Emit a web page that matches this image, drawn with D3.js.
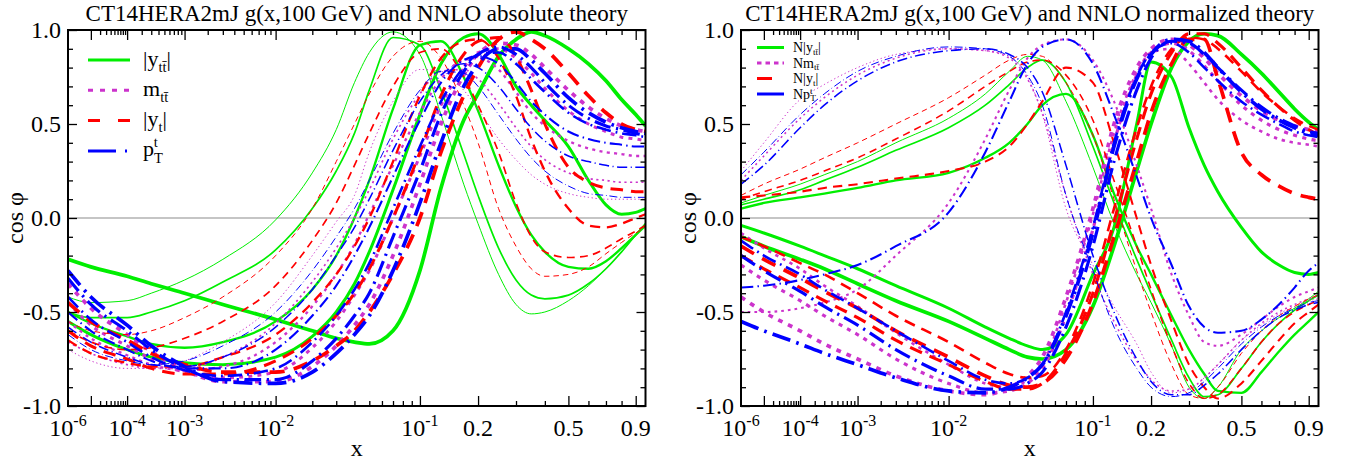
<!DOCTYPE html>
<html><head><meta charset="utf-8">
<script src="https://cdn.jsdelivr.net/npm/d3@7/dist/d3.min.js"></script>
<style>
html,body{margin:0;padding:0;background:#fff;}
svg{display:block;}
text{font-family:"Liberation Serif","Times New Roman",Times,serif;fill:#000;}
</style></head><body>
<svg id="chart" width="1349" height="464"></svg>
<script>
// x positions shared by every curve (values of x)
const xKnots = [1e-6, 1e-5, 1e-4, 3e-4, 1e-3, 3e-3, 0.01, 0.02, 0.03, 0.04, 0.05, 0.07, 0.1, 0.13, 0.17, 0.2, 0.25, 0.3, 0.35, 0.4, 0.5, 0.6, 0.7, 0.8, 0.9, 0.975];

// cos(phi) correlations, absolute theory, one row per kinematic bin
const absYtt = [
  [-0.42,-0.45,-0.44,-0.40,-0.33,-0.22, -0.01,0.24,0.47,0.72,0.88,0.99, 0.87,0.55,0.18,-0.03,-0.30,-0.46,-0.51, -0.50,-0.44,-0.36,-0.27,-0.18,-0.09,-0.03],
  [-0.50,-0.53,-0.53,-0.50,-0.44,-0.34, -0.17,0.05,0.25,0.45,0.68,0.96, 0.92,0.68,0.34,0.12,-0.16,-0.33,-0.41, -0.43,-0.41,-0.35,-0.27,-0.18,-0.09,-0.03],
  [-0.50,-0.56,-0.63,-0.67,-0.69,-0.66, -0.55,-0.38,-0.20,0.00,0.20,0.58, 0.92,0.94,0.75,0.57,0.28,0.06,-0.09, -0.18,-0.26,-0.27,-0.23,-0.16,-0.09,-0.04],
  [-0.55,-0.62,-0.70,-0.74,-0.77,-0.78, -0.74,-0.63,-0.50,-0.35,-0.18,0.15, 0.55,0.82,0.96,0.98,0.87,0.70,0.60, 0.52,0.38,0.20,0.07,0.02,0.03,0.05],
  [-0.22,-0.26,-0.31,-0.35,-0.40,-0.46, -0.54,-0.60,-0.64,-0.66,-0.67,-0.60, -0.28,0.16,0.52,0.66,0.86,0.95,0.99, 0.97,0.90,0.82,0.73,0.63,0.55,0.49]
];
const absMtt = [
  [-0.70,-0.76,-0.80,-0.80,-0.76,-0.66, -0.45,-0.20,-0.02,0.12,0.35,0.62, 0.79,0.78,0.68,0.58,0.42,0.31,0.23, 0.18,0.13,0.11,0.10,0.10,0.10,0.10],
  [-0.66,-0.72,-0.78,-0.80,-0.80,-0.74, -0.56,-0.34,-0.16,0.00,0.15,0.42, 0.66,0.78,0.79,0.74,0.61,0.48,0.38, 0.31,0.24,0.21,0.20,0.19,0.19,0.19],
  [-0.55,-0.64,-0.73,-0.78,-0.81,-0.79, -0.66,-0.47,-0.30,-0.14,0.02,0.28, 0.56,0.74,0.84,0.85,0.79,0.67,0.56, 0.49,0.41,0.37,0.35,0.34,0.33,0.33],
  [-0.45,-0.57,-0.68,-0.75,-0.82,-0.85, -0.82,-0.69,-0.55,-0.41,-0.28,0.00, 0.33,0.60,0.80,0.88,0.90,0.85,0.77, 0.69,0.57,0.50,0.46,0.43,0.42,0.41],
  [-0.35,-0.48,-0.62,-0.71,-0.81,-0.87, -0.87,-0.79,-0.68,-0.57,-0.46,-0.20, 0.18,0.50,0.76,0.87,0.93,0.92,0.87, 0.80,0.68,0.59,0.53,0.49,0.47,0.46]
];
const absYt = [
  [-0.55,-0.60,-0.62,-0.60,-0.53,-0.42, -0.20,0.05,0.30,0.50,0.66,0.86, 0.94,0.85,0.60,0.40,0.05,-0.15,-0.27, -0.31,-0.30,-0.26,-0.19,-0.13,-0.08,-0.05],
  [-0.60,-0.66,-0.70,-0.69,-0.64,-0.55, -0.36,-0.12,0.08,0.28,0.45,0.70, 0.88,0.90,0.75,0.60,0.35,0.08,-0.10, -0.18,-0.21,-0.20,-0.16,-0.11,-0.07,-0.04],
  [-0.65,-0.72,-0.77,-0.79,-0.79,-0.74, -0.62,-0.45,-0.30,-0.15,0.00,0.30, 0.65,0.85,0.94,0.95,0.85,0.65,0.42, 0.25,0.05,-0.04,-0.05,-0.03,0.00,0.02],
  [-0.60,-0.68,-0.75,-0.80,-0.83,-0.83, -0.76,-0.64,-0.52,-0.40,-0.27,0.00, 0.35,0.65,0.87,0.94,0.96,0.86,0.68, 0.50,0.27,0.19,0.16,0.15,0.14,0.14],
  [-0.45,-0.55,-0.65,-0.72,-0.78,-0.82, -0.82,-0.76,-0.68,-0.60,-0.50,-0.30, 0.00,0.35,0.65,0.80,0.95,0.99,0.95, 0.90,0.77,0.65,0.56,0.50,0.47,0.46]
];
const absPt = [
  [-0.62,-0.70,-0.76,-0.78,-0.76,-0.68, -0.50,-0.28,-0.10,0.05,0.20,0.45, 0.68,0.78,0.77,0.70,0.55,0.42,0.32, 0.25,0.17,0.13,0.12,0.11,0.11,0.11],
  [-0.58,-0.66,-0.74,-0.78,-0.79,-0.74, -0.58,-0.38,-0.20,-0.05,0.10,0.36, 0.62,0.76,0.82,0.80,0.70,0.58,0.48, 0.41,0.33,0.30,0.28,0.27,0.27,0.27],
  [-0.50,-0.60,-0.70,-0.76,-0.80,-0.80, -0.70,-0.52,-0.36,-0.20,-0.05,0.22, 0.52,0.72,0.84,0.86,0.82,0.72,0.62, 0.55,0.46,0.42,0.40,0.39,0.38,0.38],
  [-0.42,-0.54,-0.66,-0.74,-0.81,-0.84, -0.80,-0.66,-0.52,-0.38,-0.24,0.05, 0.38,0.62,0.80,0.87,0.88,0.82,0.74, 0.67,0.56,0.50,0.47,0.45,0.44,0.43],
  [-0.32,-0.46,-0.60,-0.70,-0.80,-0.86, -0.86,-0.76,-0.64,-0.52,-0.40,-0.10, 0.25,0.55,0.78,0.87,0.91,0.87,0.80, 0.72,0.60,0.53,0.49,0.47,0.45,0.44],
  [-0.28,-0.42,-0.57,-0.68,-0.79,-0.87, -0.88,-0.82,-0.72,-0.62,-0.52,-0.28, 0.08,0.40,0.70,0.82,0.90,0.90,0.84, 0.77,0.64,0.56,0.51,0.48,0.46,0.45]
];

// cos(phi) correlations, normalized theory
const normYtt = [
  [0.08,0.12,0.18,0.23,0.30,0.40, 0.53,0.66,0.78,0.86,0.84,0.62, 0.27,-0.03,-0.30,-0.45,-0.68,-0.90,-0.96, -0.90,-0.70,-0.60,-0.53,-0.48,-0.43,-0.39],
  [0.07,0.10,0.15,0.20,0.27,0.36, 0.48,0.60,0.71,0.80,0.84,0.72, 0.38,0.08,-0.22,-0.40,-0.65,-0.85,-0.95, -0.94,-0.80,-0.66,-0.56,-0.49,-0.44,-0.41],
  [0.05,0.08,0.11,0.13,0.16,0.20, 0.24,0.32,0.40,0.50,0.60,0.66, 0.44,0.13,-0.15,-0.30,-0.52,-0.70,-0.83, -0.92,-0.93,-0.82,-0.71,-0.62,-0.55,-0.50],
  [-0.04,-0.08,-0.15,-0.20,-0.27,-0.36, -0.48,-0.58,-0.64,-0.68,-0.70,-0.62, -0.30,-0.05,0.50,0.83,0.75,0.48,0.28, 0.14,-0.05,-0.18,-0.25,-0.29,-0.30,-0.29],
  [-0.10,-0.15,-0.22,-0.27,-0.35,-0.44, -0.55,-0.64,-0.70,-0.74,-0.75,-0.70, -0.47,-0.15,0.25,0.50,0.80,0.94,0.98, 0.97,0.87,0.77,0.67,0.58,0.51,0.47]
];
const normMtt = [
  [0.25,0.40,0.63,0.71,0.80,0.87, 0.90,0.89,0.86,0.75,0.55,0.05, -0.25,-0.47,-0.67,-0.82,-0.93,-0.91,-0.85, -0.78,-0.65,-0.57,-0.51,-0.47,-0.44,-0.43],
  [0.20,0.33,0.53,0.64,0.76,0.85, 0.90,0.89,0.85,0.74,0.56,0.12, -0.30,-0.55,-0.76,-0.86,-0.92,-0.91,-0.85, -0.78,-0.65,-0.56,-0.50,-0.46,-0.43,-0.41],
  [-0.50,-0.50,-0.48,-0.45,-0.38,-0.20, 0.08,0.42,0.68,0.85,0.92,0.95, 0.84,0.62,0.28,0.05,-0.30,-0.52,-0.66, -0.68,-0.62,-0.54,-0.47,-0.42,-0.39,-0.37],
  [-0.08,-0.16,-0.27,-0.36,-0.47,-0.61, -0.78,-0.88,-0.90,-0.86,-0.78,-0.45, 0.02,0.45,0.77,0.88,0.90,0.82,0.72, 0.63,0.52,0.46,0.42,0.40,0.39,0.38],
  [-0.25,-0.33,-0.44,-0.52,-0.62,-0.75, -0.88,-0.93,-0.92,-0.88,-0.80,-0.52, -0.06,0.40,0.76,0.88,0.93,0.89,0.81, 0.73,0.60,0.52,0.47,0.44,0.42,0.41],
  [-0.42,-0.50,-0.60,-0.67,-0.75,-0.84, -0.92,-0.94,-0.90,-0.84,-0.74,-0.42, 0.05,0.50,0.80,0.90,0.95,0.92,0.85, 0.77,0.65,0.57,0.52,0.49,0.47,0.46]
];
const normYt = [
  [0.12,0.18,0.26,0.32,0.40,0.50, 0.64,0.76,0.84,0.87,0.86,0.72, 0.44,0.10,-0.28,-0.50,-0.78,-0.94,-0.96, -0.90,-0.72,-0.60,-0.52,-0.47,-0.43,-0.41],
  [0.10,0.14,0.20,0.25,0.32,0.42, 0.57,0.70,0.78,0.83,0.84,0.76, 0.52,0.20,-0.15,-0.38,-0.68,-0.88,-0.96, -0.94,-0.80,-0.66,-0.56,-0.50,-0.46,-0.44],
  [0.11,0.12,0.14,0.16,0.18,0.21, 0.25,0.30,0.38,0.50,0.62,0.80, 0.72,0.40,0.00,-0.25,-0.55,-0.78,-0.90, -0.96,-0.88,-0.76,-0.65,-0.56,-0.50,-0.46],
  [-0.10,-0.15,-0.24,-0.30,-0.40,-0.52, -0.66,-0.77,-0.83,-0.85,-0.84,-0.70, -0.35,0.05,0.48,0.70,0.90,0.96,0.95, 0.90,0.78,0.67,0.59,0.53,0.49,0.47],
  [-0.20,-0.27,-0.37,-0.44,-0.53,-0.65, -0.78,-0.87,-0.91,-0.91,-0.88,-0.72, -0.40,-0.02,0.42,0.66,0.88,0.98,0.98, 0.93,0.80,0.68,0.59,0.52,0.47,0.44],
  [-0.15,-0.22,-0.32,-0.39,-0.48,-0.60, -0.74,-0.84,-0.89,-0.90,-0.88,-0.75, -0.45,-0.10,0.30,0.56,0.82,0.95,0.95, 0.74,0.35,0.23,0.17,0.13,0.11,0.10]
];
const normPt = [
  [0.23,0.35,0.55,0.66,0.78,0.86, 0.91,0.90,0.86,0.76,0.60,0.12, -0.28,-0.58,-0.80,-0.90,-0.95,-0.93,-0.87, -0.80,-0.67,-0.58,-0.52,-0.48,-0.45,-0.44],
  [0.18,0.28,0.48,0.60,0.73,0.83, 0.89,0.90,0.87,0.80,0.67,0.28, -0.20,-0.50,-0.75,-0.87,-0.94,-0.94,-0.89, -0.83,-0.70,-0.60,-0.53,-0.49,-0.46,-0.45],
  [-0.37,-0.36,-0.33,-0.30,-0.25,-0.15, 0.03,0.35,0.62,0.82,0.91,0.95, 0.82,0.55,0.22,0.00,-0.25,-0.47,-0.58, -0.61,-0.60,-0.54,-0.46,-0.37,-0.28,-0.24],
  [-0.12,-0.20,-0.30,-0.38,-0.48,-0.60, -0.76,-0.86,-0.88,-0.85,-0.78,-0.50, -0.05,0.40,0.75,0.88,0.93,0.88,0.80, 0.73,0.62,0.55,0.50,0.46,0.44,0.43],
  [-0.20,-0.28,-0.39,-0.47,-0.57,-0.70, -0.84,-0.91,-0.91,-0.88,-0.82,-0.58, -0.15,0.30,0.68,0.85,0.94,0.93,0.87, 0.80,0.68,0.59,0.53,0.49,0.46,0.45],
  [-0.55,-0.60,-0.67,-0.72,-0.78,-0.85, -0.92,-0.93,-0.90,-0.85,-0.78,-0.52, -0.08,0.38,0.74,0.87,0.95,0.94,0.88, 0.80,0.67,0.58,0.52,0.48,0.45,0.44]
];

// axis ticks and labels
const xTickMajor = [1e-5, 1e-4, 1e-3, 1e-2, 0.1, 0.2, 0.5, 0.9];
const xTickMinor = [2e-5,3e-5,4e-5,5e-5,6e-5,7e-5,8e-5,9e-5, 2e-4,3e-4,4e-4,5e-4,6e-4,7e-4,8e-4,9e-4,
                    2e-3,3e-3,4e-3,5e-3,6e-3,7e-3,8e-3,9e-3, 0.02,0.03,0.04,0.05,0.06,0.07,0.08,0.09, 0.3,0.4,0.6,0.7,0.8];
const xLabelValues = [1e-6, 1e-4, 1e-3, 1e-2, 0.1, 0.2, 0.5, 0.9];
const xLabelTexts = ["10^-6", "10^-4", "10^-3", "10^-2", "10^-1", "0.2", "0.5", "0.9"];
const yTickMajor = [-1, -0.5, 0, 0.5, 1];
const yTickMinor = [-0.9,-0.8,-0.7,-0.6,-0.4,-0.3,-0.2,-0.1,0.1,0.2,0.3,0.4,0.6,0.7,0.8,0.9];

const titles = ["CT14HERA2mJ g(x,100 GeV) and NNLO absolute theory",
                "CT14HERA2mJ g(x,100 GeV) and NNLO normalized theory"];
const legendAbs = [
  [{t:"|y"},{t:"tt\u0304",sub:1},{t:"|"}],
  [{t:"m"},{t:"tt\u0304",sub:1}],
  [{t:"|y"},{t:"t",sub:1},{t:"|"}],
  [{t:"p"},{t:"T",sub:1},{t:"t",sup:1,back:0.42}]
];
const legendNorm = [
  [{t:"N|y"},{t:"tt\u0304",sub:1},{t:"|"}],
  [{t:"Nm"},{t:"tt\u0304",sub:1}],
  [{t:"N|y"},{t:"t",sub:1},{t:"|"}],
  [{t:"Np"},{t:"T",sub:1},{t:"t",sup:1,back:0.42}]
];

// ---------- drawing ----------
const svg = d3.select("#chart");
const TOP = 30, BOTTOM = 406;
const y = d3.scaleLinear().domain([-1, 1]).range([BOTTOM, TOP]);

const families = [
  {key:"ytt", color:"#00ee00", kind:"solid"},
  {key:"mtt", color:"#cc33cc", kind:"dot"},
  {key:"yt",  color:"#ff0000", kind:"dash"},
  {key:"pt",  color:"#0000ff", kind:"dashdot"}
];

function dashFor(kind, w) {
  if (kind === "dot") return [1.3*w, 1.3*w + 1.3].join(",");
  if (kind === "dash") return [3.5*w + 2, 2*w + 2].join(",");
  if (kind === "dashdot") return [4*w + 4, 1.3*w + 1.5, 0.7*w, 1.3*w + 1.5].join(",");
  return null;
}

function richText(sel, parts, size, subShift, supShift) {
  let cur = 0;
  parts.forEach(p => {
    const small = p.sub || p.sup;
    const fs = small ? size * 0.66 : size;
    const target = p.sub ? size * subShift : (p.sup ? -size * supShift : 0);
    const ts = sel.append("tspan").attr("font-size", fs).attr("dy", target - cur).text(p.t);
    if (p.back) ts.attr("dx", -p.back * size);
    cur = target;
  });
}

function drawPanel(cfg) {
  const x = d3.scalePow().exponent(0.2).domain([1e-6, 0.975]).range([cfg.x0, cfg.x1]);
  const g = svg.append("g");

  const clipId = "clip-" + cfg.id;
  svg.append("clipPath").attr("id", clipId).append("rect")
    .attr("x", cfg.x0).attr("y", TOP).attr("width", cfg.x1 - cfg.x0).attr("height", BOTTOM - TOP);

  // zero line
  g.append("line").attr("x1", cfg.x0).attr("x2", cfg.x1)
    .attr("y1", y(0)).attr("y2", y(0)).attr("stroke", "#8c8c8c").attr("stroke-width", 1.2);

  const plot = g.append("g").attr("clip-path", `url(#${clipId})`);
  const line = d3.line().x(d => x(d[0])).y(d => y(d[1])).curve(d3.curveMonotoneX);

  families.forEach(f => {
    const rows = cfg.data[f.key];
    rows.forEach((vals, i) => {
      const w = 1 + 2.7 * i / (rows.length - 1);
      plot.append("path")
        .datum(xKnots.map((xv, k) => [xv, vals[k]]))
        .attr("d", line)
        .attr("fill", "none")
        .attr("stroke", f.color)
        .attr("stroke-width", w)
        .attr("stroke-dasharray", dashFor(f.kind, w));
    });
  });

  // ticks (inward on all four sides)
  const tickStyle = s => { s.select(".domain").remove(); s.selectAll("line").attr("stroke", "#000").attr("stroke-width", 1.3); };
  g.append("g").attr("transform", `translate(0,${BOTTOM})`)
    .call(d3.axisBottom(x).tickValues(xTickMajor).tickSize(-10).tickFormat("")).call(tickStyle);
  g.append("g").attr("transform", `translate(0,${BOTTOM})`)
    .call(d3.axisBottom(x).tickValues(xTickMinor).tickSize(-5).tickFormat("")).call(tickStyle);
  g.append("g").attr("transform", `translate(0,${TOP})`)
    .call(d3.axisTop(x).tickValues(xTickMajor).tickSize(-10).tickFormat("")).call(tickStyle);
  g.append("g").attr("transform", `translate(0,${TOP})`)
    .call(d3.axisTop(x).tickValues(xTickMinor).tickSize(-5).tickFormat("")).call(tickStyle);

  const yAx = g.append("g").attr("transform", `translate(${cfg.x0},0)`)
    .call(d3.axisLeft(y).tickValues(yTickMajor).tickSize(-9).tickPadding(7).tickFormat(d => d.toFixed(1)))
    .call(tickStyle);
  yAx.selectAll("text").attr("font-size", 24).attr("fill", "#000");
  g.append("g").attr("transform", `translate(${cfg.x0},0)`)
    .call(d3.axisLeft(y).tickValues(yTickMinor).tickSize(-5).tickFormat("")).call(tickStyle);
  g.append("g").attr("transform", `translate(${cfg.x1},0)`)
    .call(d3.axisRight(y).tickValues(yTickMajor).tickSize(-9).tickFormat("")).call(tickStyle);
  g.append("g").attr("transform", `translate(${cfg.x1},0)`)
    .call(d3.axisRight(y).tickValues(yTickMinor).tickSize(-5).tickFormat("")).call(tickStyle);

  // frame
  g.append("rect").attr("x", cfg.x0).attr("y", TOP)
    .attr("width", cfg.x1 - cfg.x0).attr("height", BOTTOM - TOP)
    .attr("fill", "none").attr("stroke", "#000").attr("stroke-width", 2);

  // x tick labels
  xLabelValues.forEach((v, i) => {
    const [base, exp] = xLabelTexts[i].split("^");
    const t = g.append("text").attr("x", x(v)).attr("y", 436)
      .attr("text-anchor", "middle").attr("font-size", 24);
    t.append("tspan").text(base);
    if (exp) t.append("tspan").attr("font-size", 16).attr("dy", -10).text(exp);
  });

  // axis titles
  g.append("text").attr("x", (cfg.x0 + cfg.x1) / 2).attr("y", 456)
    .attr("text-anchor", "middle").attr("font-size", 24).text("x");
  g.append("text").attr("transform", `translate(${cfg.x0 - 45},${y(0)}) rotate(-90)`)
    .attr("text-anchor", "middle").attr("font-size", 24).text("cos \u03c6");
  g.append("text").attr("x", (cfg.x0 + cfg.x1) / 2).attr("y", 21)
    .attr("text-anchor", "middle").attr("font-size", 23).text(cfg.title);

  // legend
  const L = cfg.legend;
  families.forEach((f, i) => {
    const ly = L.y0 + i * L.dy;
    g.append("line").attr("x1", L.x0).attr("x2", L.x1).attr("y1", ly).attr("y2", ly)
      .attr("stroke", f.color).attr("stroke-width", L.width)
      .attr("stroke-dasharray", L.dash[i]);
    const t = g.append("text").attr("x", L.tx).attr("y", ly + L.base).attr("font-size", L.size);
    richText(t, L.labels[i], L.size, L.sub, L.sup);
  });
}

drawPanel({
  id: "abs", x0: 68, x1: 645.5, title: titles[0],
  data: {ytt: absYtt, mtt: absMtt, yt: absYt, pt: absPt},
  legend: {x0: 88, x1: 130, tx: 143, y0: 60, dy: 30.3, width: 3, size: 22, base: 5.5, sub: 0.28, sup: 0.45,
           dash: [null, "5,7", "12,18", "28,9,2,9"], labels: legendAbs}
});
drawPanel({
  id: "norm", x0: 741, x1: 1318.5, title: titles[1],
  data: {ytt: normYtt, mtt: normMtt, yt: normYt, pt: normPt},
  legend: {x0: 757, x1: 784, tx: 793, y0: 47.5, dy: 15.5, width: 3, size: 14, base: 4.5, sub: 0.2, sup: 0.3,
           dash: [null, "4.5,4", "15,20", "27,5"], labels: legendNorm}
});
</script>
</body></html>
